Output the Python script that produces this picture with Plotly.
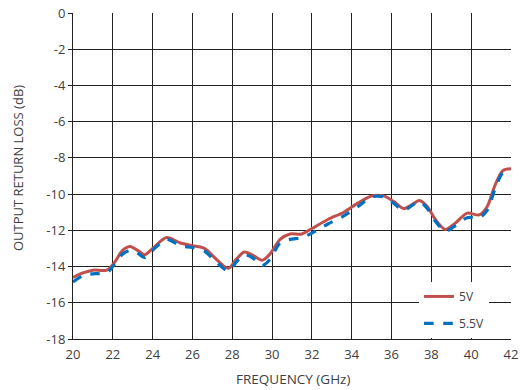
import plotly.graph_objects as go

freq = [20, 20.5, 21, 21.7, 22.1, 22.5, 22.9, 23.3, 23.6, 24.0, 24.7, 25.4, 26.0, 26.6,
        27.2, 27.8, 28.2, 28.6, 29.0, 29.5, 29.9, 30.4, 30.9, 31.5, 32.0, 32.8, 33.6,
        34.3, 35.0, 35.6, 36.1, 36.6, 37.0, 37.4, 37.8, 38.2, 38.7, 39.2, 39.8, 40.4,
        40.8, 41.2, 41.6, 42.0]

rl_5v = [-14.6, -14.35, -14.2, -14.2, -13.75, -13.1, -12.9, -13.15, -13.35, -13.0, -12.4,
         -12.7, -12.85, -13.0, -13.6, -14.1, -13.6, -13.2, -13.35, -13.65, -13.3, -12.5,
         -12.2, -12.2, -11.9, -11.4, -11.0, -10.5, -10.1, -10.1, -10.4, -10.8, -10.6,
         -10.35, -10.7, -11.4, -11.95, -11.6, -11.05, -11.15, -10.7, -9.5, -8.7, -8.6]

rl_55v = [-14.85, -14.5, -14.4, -14.35, -13.85, -13.3, -13.1, -13.3, -13.5, -13.1, -12.5,
          -12.85, -12.95, -13.15, -13.75, -14.25, -13.75, -13.35, -13.5, -13.95, -13.6,
          -12.7, -12.5, -12.4, -12.15, -11.65, -11.2, -10.7, -10.15, -10.15, -10.5, -10.9,
          -10.65, -10.4, -10.8, -11.5, -12.05, -11.75, -11.3, -11.3, -10.9, -9.7, -8.8, -8.65]

names = ["5V", "5.5V"]
x_ticks = list(range(20, 43, 2))
y_ticks = list(range(-18, 1, 2))
y_ticktext = [str(v) for v in y_ticks]

fig = go.Figure()
fig.add_trace(go.Scatter(x=freq, y=rl_5v, mode="lines", name=names[0], legendgroup="a",
                         line=dict(color="#C0504D", width=3, shape="spline", smoothing=0.8)))
fig.add_trace(go.Scatter(x=freq, y=rl_55v, mode="lines", name=names[1], legendgroup="b",
                         line=dict(color="#0070C0", width=3.2, dash="dash", shape="spline", smoothing=0.8)))

font = dict(family="Open Sans, sans-serif", size=13, color="#404040")
xtfont = dict(family="Open Sans, sans-serif", size=13.5, color="#404040")
ytfont = dict(family="Open Sans, sans-serif", size=13, color="#404040")
fig.update_layout(
    width=520, height=390,
    margin=dict(l=73, r=9, t=13, b=51, autoexpand=False),
    paper_bgcolor="white", plot_bgcolor="white",
    font=font,
    showlegend=True,
    legend=dict(x=0.79, y=0.175, xanchor="left", yanchor="top", bgcolor="white",
                traceorder="grouped", tracegroupgap=8,
                font=dict(family="Open Sans, sans-serif", size=12, color="#404040")),
    annotations=[
        dict(text="FREQUENCY (GHz)", xref="paper", yref="paper", x=0.502, y=-0.124,
             xanchor="center", yanchor="middle", showarrow=False, font=xtfont),
        dict(text="OUTPUT RETURN LOSS (dB)", xref="paper", yref="paper", x=-0.125, y=0.525,
             xanchor="center", yanchor="middle", textangle=-90, showarrow=False, font=ytfont),
    ],
)
fig.update_xaxes(range=[20, 42], tickvals=x_ticks, showgrid=True, gridcolor="#222222", gridwidth=1,
                 showline=True, linecolor="#222222", linewidth=1, mirror=False, automargin=False,
                 ticks="inside", ticklen=4, tickcolor="#222222", zeroline=False, tickfont=font,
                 ticklabelstandoff=3)
fig.update_yaxes(range=[-18, 0], tickvals=y_ticks, ticktext=y_ticktext, showgrid=True,
                 gridcolor="#222222", gridwidth=1,
                 showline=True, linecolor="#222222", linewidth=1, automargin=False,
                 ticks="outside", ticklen=4, tickcolor="#222222", zeroline=False, tickfont=font)

fig.write_html("out.html")
